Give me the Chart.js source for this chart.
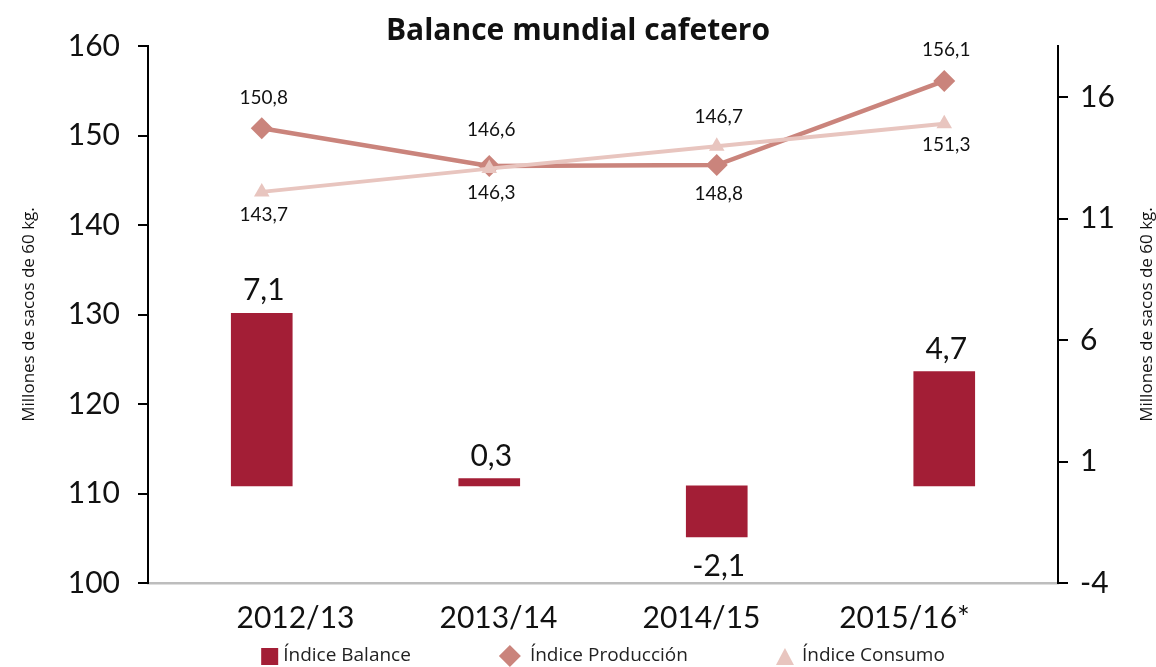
<!DOCTYPE html>
<html><head><meta charset="utf-8">
<script src="https://cdn.jsdelivr.net/npm/chart.js@4.4.1/dist/chart.umd.min.js"></script>
<style>html,body{margin:0;padding:0;background:#fff}#wrap{width:1156px;height:667px}</style>
</head><body><div id="wrap"><canvas id="c" width="1156" height="667"></canvas></div>
<script>
const categories = ['2012/13', '2013/14', '2014/15', '2015/16*'];
const balance = [7.1, 0.3, -2.1, 4.7];
const produccion = [150.8, 146.6, 146.7, 156.1];
const consumo = [143.7, 146.3, 148.8, 151.3];
const leftTicks = [100, 110, 120, 130, 140, 150, 160];
const rightTicks = [-4, 1, 6, 11, 16];
const seriesNames = ['Índice Balance', 'Índice Producción', 'Índice Consumo'];
const titleText = 'Balance mundial cafetero';
const axisTitle = 'Millones de sacos de 60 kg.';

const FONT = 'Lato, "Open Sans", sans-serif';
const FONT2 = '"Open Sans", Lato, sans-serif';
const C_BAL = '#A31E36', C_PROD = '#CA847C', C_CONS = '#E8C5BF';

const fmt = v => v.toFixed(1).replace('.', ',');

const valueLabels = {
  id: 'valueLabels',
  afterDatasetsDraw(chart) {
    const ctx = chart.ctx;
    chart.data.datasets.forEach((ds, i) => {
      const meta = chart.getDatasetMeta(i);
      const lc = ds.labelCfg;
      ctx.save();
      ctx.fillStyle = '#111';
      ctx.textAlign = 'center';
      ctx.font = lc.size + 'px ' + FONT;
      meta.data.forEach((el, j) => {
        const v = ds.data[j];
        if (ds.type === 'bar') {
          if (v >= 0) { ctx.textBaseline = 'alphabetic'; ctx.fillText(fmt(v), el.x + 2, el.y - 13); }
          else { ctx.textBaseline = 'top'; ctx.fillText(fmt(v), el.x + 2, el.y + 14); }
        } else {
          ctx.textBaseline = 'middle';
          ctx.fillText(fmt(v), el.x + 2, el.y + lc.offsets[j]);
        }
      });
      ctx.restore();
    });
  }
};

// category label axis sits slightly inset from the plot area (as in the original)
const labelAxisInset = { left: 46, right: 52 };
const labelAxisLayout = {
  id: 'labelAxisLayout',
  afterLayout(chart) {
    const s = chart.scales.xt, ca = chart.chartArea;
    s.left = ca.left + labelAxisInset.left;
    s.right = ca.right - labelAxisInset.right;
    s.width = s.right - s.left;
    s.configure();
    s._labelItems = null;
  }
};

const extras = {
  id: 'extras',
  afterDraw(chart) {
    const ctx = chart.ctx, ca = chart.chartArea;
    // right axis title (reads bottom-to-top like the left one)
    ctx.save();
    ctx.fillStyle = '#111';
    ctx.font = '17px ' + FONT2;
    ctx.textAlign = 'center';
    ctx.textBaseline = 'middle';
    ctx.translate(1147, (ca.top + ca.bottom) / 2);
    ctx.rotate(-Math.PI / 2);
    ctx.fillText(axisTitle, 0, 0);
    ctx.restore();
    // legend
    ctx.save();
    ctx.font = '19px ' + FONT2;
    ctx.textBaseline = 'middle';
    const y = 656, gap = 88;
    const items = chart.data.datasets.map(ds => ({ text: ds.label, color: ds.backgroundColor, style: ds.legendStyle }));
    const boxW = [18, 22, 18], tgap = [4, 9, 8];
    const widths = items.map((it, k) => boxW[k] + tgap[k] + ctx.measureText(it.text).width);
    const total = widths.reduce((a, b) => a + b, 0) + gap * (items.length - 1);
    let x = (ca.left + ca.right) / 2 - total / 2;
    items.forEach((it, k) => {
      ctx.fillStyle = it.color;
      if (it.style === 'rect') {
        ctx.fillRect(x, y - 8, 17, 17);
      } else if (it.style === 'rectRot') {
        const cx = x + 11;
        ctx.beginPath(); ctx.moveTo(cx, y - 11); ctx.lineTo(cx + 11, y); ctx.lineTo(cx, y + 11); ctx.lineTo(cx - 11, y); ctx.closePath(); ctx.fill();
      } else {
        const cx = x + 9;
        ctx.beginPath(); ctx.moveTo(cx, y - 8); ctx.lineTo(cx + 9, y + 9); ctx.lineTo(cx - 9, y + 9); ctx.closePath(); ctx.fill();
      }
      ctx.fillStyle = '#222';
      ctx.fillText(it.text, x + boxW[k] + tgap[k], y);
      x += widths[k] + gap;
    });
    ctx.restore();
  }
};

new Chart(document.getElementById('c'), {
  data: {
    labels: categories,
    datasets: [
      { type: 'bar', label: seriesNames[0], data: balance, yAxisID: 'y1', backgroundColor: C_BAL,
        barThickness: 61, order: 2, legendStyle: 'rect', labelCfg: { size: 30 } },
      { type: 'line', label: seriesNames[1], data: produccion, yAxisID: 'y', borderColor: C_PROD, backgroundColor: C_PROD,
        borderWidth: 4.5, pointStyle: 'rectRot', pointRadius: 11, pointHoverRadius: 11, pointBorderWidth: 0,
        order: 1, legendStyle: 'rectRot', labelCfg: { size: 19, offsets: [-30, -36, -48, -31] } },
      { type: 'line', label: seriesNames[2], data: consumo, yAxisID: 'y', borderColor: C_CONS, backgroundColor: C_CONS,
        borderWidth: 4, pointStyle: 'triangle', pointRadius: 9, pointHoverRadius: 9, pointBorderWidth: 0,
        order: 0, legendStyle: 'triangle', labelCfg: { size: 19, offsets: [23, 24, 48, 21] } }
    ]
  },
  options: {
    responsive: false,
    animation: false,
    devicePixelRatio: 1,
    layout: { padding: 0 },
    plugins: {
      legend: { display: false },
      tooltip: { enabled: false },
      title: { display: true, text: titleText, color: '#111',
        font: { family: FONT2, size: 30, weight: 'bold', lineHeight: 1 }, padding: { top: 16, bottom: 0 } }
    },
    scales: {
      x: {
        offset: true, weight: 0,
        grid: { display: false },
        border: { display: true, color: '#bdbdbd', width: 2.5 },
        ticks: { display: false },
        afterFit: s => { s.height = 0; }
      },
      xt: {
        type: 'category', position: 'bottom', offset: true, weight: 1,
        grid: { display: false },
        border: { display: false },
        ticks: { color: '#111', font: { family: FONT, size: 30 }, padding: 9 },
        afterFit: s => { s.height = 84; }
      },
      y: {
        position: 'left', min: 100, max: 160,
        afterBuildTicks: s => { s.ticks = leftTicks.map(v => ({ value: v })); },
        afterFit: s => { s.width = 148; },
        grid: { drawOnChartArea: false, drawTicks: true, tickLength: 10, color: '#000', lineWidth: 2 },
        border: { display: true, color: '#000', width: 2 },
        ticks: { color: '#111', font: { family: FONT, size: 30 }, padding: 18 },
        title: { display: true, text: axisTitle, color: '#111', font: { family: FONT2, size: 17 }, padding: { top: 19, bottom: 0 } }
      },
      y1: {
        position: 'right', min: -4, max: 18.1,
        afterBuildTicks: s => { s.ticks = rightTicks.map(v => ({ value: v })); },
        afterFit: s => { s.width = 98; },
        grid: { drawOnChartArea: false, drawTicks: true, tickLength: 10, color: '#000', lineWidth: 2 },
        border: { display: true, color: '#000', width: 2 },
        ticks: { color: '#111', font: { family: FONT, size: 30 }, padding: 12 }
      }
    }
  },
  plugins: [valueLabels, labelAxisLayout, extras]
});
</script>
</body></html>
